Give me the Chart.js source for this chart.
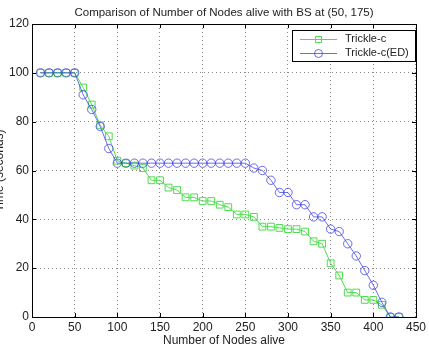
<!DOCTYPE html>
<html>
<head>
<meta charset="utf-8">
<script src="https://cdn.jsdelivr.net/npm/chart.js@4/dist/chart.umd.min.js"></script>
<style>
  body { margin: 0; background: #fff; }
  canvas { display: block; }
</style>
</head>
<body>
<canvas id="myChart" width="429" height="348"></canvas>
<script>
// nodes alive (x) and time in seconds for each protocol
const nodes = [10, 20, 30, 40, 50, 60, 70, 80, 90, 100, 110, 120, 130, 140, 150, 160, 170, 180, 190, 200,
  210, 220, 230, 240, 250, 260, 270, 280, 290, 300, 310, 320, 330, 340, 350, 360, 370, 380, 390, 400,
  410, 420, 430];
const trickleC = [100, 100, 100, 100, 100, 94, 87, 78.5, 74, 64, 63, 62, 61, 56, 56, 53, 52, 49, 49, 47.5,
  47.5, 46, 45, 42, 42, 41, 37, 37, 36.5, 36, 36, 35, 31, 30, 22, 17, 10, 10, 7, 7,
  5, 0, 0];
const trickleCED = [100, 100, 100, 100, 100, 91, 85, 78, 69, 63, 63, 63, 63, 63, 63, 63, 63, 63, 63, 63,
  63, 63, 63, 63, 63, 61, 60, 56, 51, 51, 46, 46, 41, 41, 36, 35, 30, 25, 19, 13,
  6, 0, 0];
const seriesNames = ["Trickle-c", "Trickle-c(ED)"];
const titleText = "Comparison of Number of Nodes alive with BS at (50, 175)";
const xTitle = "Number of Nodes alive";
const yTitle = "Time (seconds)";

const GREEN = "rgb(80, 220, 80)";
const BLUE = "rgba(60, 60, 230, 0.75)";
const FONT = "'Liberation Sans', Arial, sans-serif";

function toPoints(ys) {
  return nodes.map((x, i) => ({ x: x, y: ys[i] }));
}

// frame, inward ticks, title, y label and legend in MATLAB style
const matlabDecor = {
  id: "matlabDecor",
  afterDraw(chart) {
    const ctx = chart.ctx;
    const a = chart.chartArea;
    const xs = chart.scales.x, ys = chart.scales.y;
    ctx.save();
    ctx.strokeStyle = "#000";
    ctx.lineWidth = 1;
    ctx.setLineDash([]);
    ctx.beginPath();
    xs.ticks.forEach(t => {
      const px = Math.round(xs.getPixelForValue(t.value)) + 0.5;
      ctx.moveTo(px, a.bottom); ctx.lineTo(px, a.bottom - 4);
      ctx.moveTo(px, a.top); ctx.lineTo(px, a.top + 4);
    });
    ys.ticks.forEach(t => {
      const py = Math.round(ys.getPixelForValue(t.value)) + 0.5;
      ctx.moveTo(a.left, py); ctx.lineTo(a.left + 4, py);
      ctx.moveTo(a.right, py); ctx.lineTo(a.right - 4, py);
    });
    ctx.stroke();
    ctx.strokeRect(Math.round(a.left) + 0.5, Math.round(a.top) + 0.5,
      Math.round(a.right - a.left), Math.round(a.bottom - a.top));

    // title
    ctx.fillStyle = "#222";
    ctx.font = "11.5px " + FONT;
    ctx.textAlign = "center";
    ctx.textBaseline = "middle";
    ctx.fillText(titleText, (a.left + a.right) / 2, 13);

    // y label (partly cut off at the left edge like the original)
    ctx.save();
    ctx.translate(3, (a.top + a.bottom) / 2);
    ctx.rotate(-Math.PI / 2);
    ctx.font = "12px " + FONT;
    ctx.textBaseline = "alphabetic";
    ctx.fillText(yTitle, 0, 0);
    ctx.restore();

    // legend box
    const lx = 292, ly = 30, lw = 123, lh = 31;
    ctx.fillStyle = "#fff";
    ctx.fillRect(lx, ly, lw, lh);
    ctx.strokeStyle = "#000";
    ctx.strokeRect(lx + 0.5, ly + 0.5, lw, lh);
    const rows = [
      { name: seriesNames[0], color: GREEN, style: "rect", y: ly + 9 },
      { name: seriesNames[1], color: BLUE, style: "circle", y: ly + 23 }
    ];
    rows.forEach(r => {
      ctx.strokeStyle = r.color;
      ctx.beginPath();
      ctx.moveTo(300, r.y + 0.5); ctx.lineTo(337, r.y + 0.5);
      ctx.stroke();
      ctx.beginPath();
      if (r.style === "rect") ctx.rect(315.5, r.y - 2.5, 6, 6);
      else ctx.arc(318.5, r.y + 0.5, 4, 0, Math.PI * 2);
      ctx.stroke();
      ctx.fillStyle = "#222";
      ctx.font = "11px " + FONT;
      ctx.textAlign = "left";
      ctx.fillText(r.name, 345, r.y);
    });
    ctx.restore();
  }
};

const ctx = document.getElementById("myChart").getContext("2d");
new Chart(ctx, {
  type: "line",
  data: {
    datasets: [
      {
        label: seriesNames[0],
        data: toPoints(trickleC),
        order: 1,
        borderColor: GREEN,
        borderWidth: 1,
        pointStyle: "rect",
        pointRadius: 4.8,
        pointBorderColor: GREEN,
        pointBackgroundColor: "rgba(0,0,0,0)",
        pointBorderWidth: 1,
        tension: 0
      },
      {
        label: seriesNames[1],
        data: toPoints(trickleCED),
        order: 0,
        borderColor: BLUE,
        borderWidth: 1,
        pointStyle: "circle",
        pointRadius: 4.2,
        pointBorderColor: BLUE,
        pointBackgroundColor: "rgba(0,0,0,0)",
        pointBorderWidth: 1,
        tension: 0
      }
    ]
  },
  options: {
    responsive: false,
    animation: false,
    devicePixelRatio: 1,
    layout: { padding: { top: 24, right: 8, left: 0, bottom: 0 } },
    plugins: {
      legend: { display: false },
      title: { display: false },
      tooltip: { enabled: false }
    },
    scales: {
      x: {
        type: "linear",
        min: 0,
        max: 450,
        ticks: { stepSize: 50, color: "#222", font: { size: 12, family: FONT }, padding: 3, maxRotation: 0 },
        grid: { color: "#888", drawTicks: false },
        border: { display: false, dash: [1, 3] },
        title: { display: true, text: xTitle, color: "#222", font: { size: 12, family: FONT }, padding: { top: 0, bottom: 0 } },
        afterFit: s => { s.height = 31; }
      },
      y: {
        min: 0,
        max: 120,
        ticks: { stepSize: 20, color: "#222", font: { size: 12, family: FONT }, padding: 3 },
        grid: { color: "#888", drawTicks: false },
        border: { display: false, dash: [1, 3] },
        afterFit: s => { s.width = 32; }
      }
    }
  },
  plugins: [matlabDecor]
});
</script>
</body>
</html>
